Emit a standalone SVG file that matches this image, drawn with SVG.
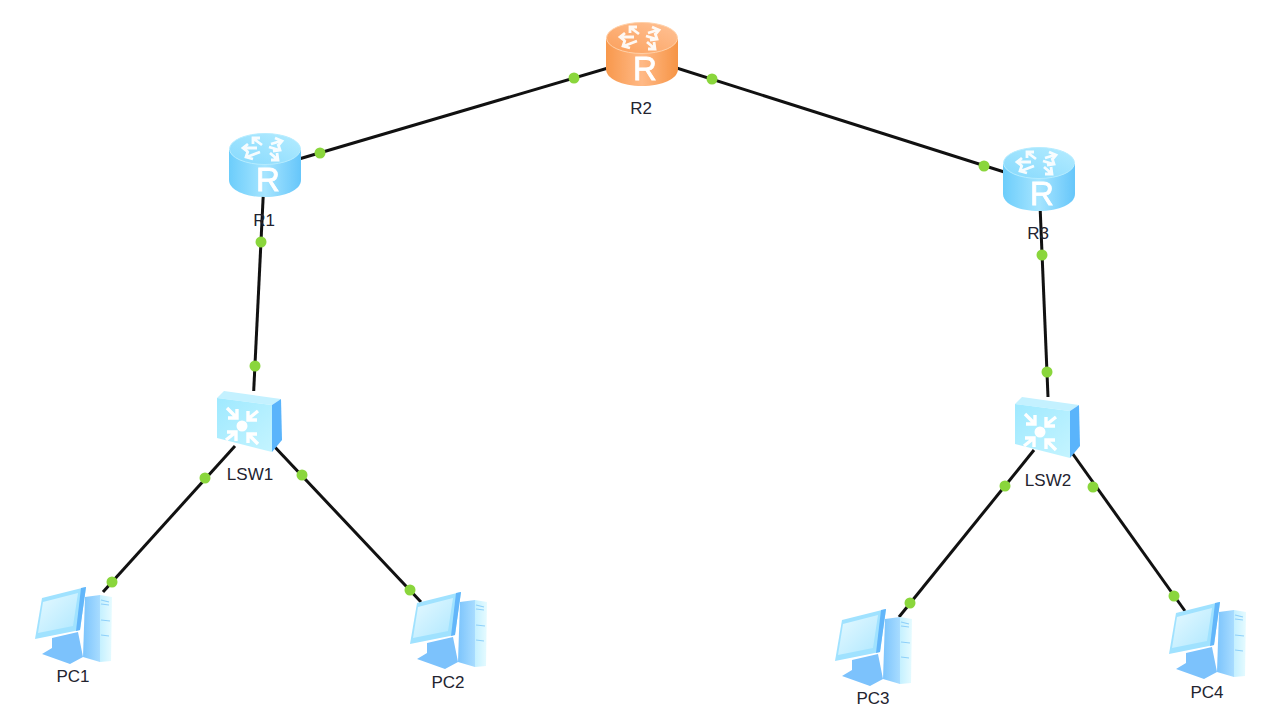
<svg xmlns="http://www.w3.org/2000/svg" width="1279" height="720" viewBox="0 0 1279 720">
<style>
text.l{font-family:"Liberation Sans",Arial,sans-serif;font-size:17px;fill:#23232f;text-anchor:middle}
.link{stroke:#111;stroke-width:3;fill:none}
.dot{fill:#8ad63c}
.blue{--side:url(#sideB);--top:url(#topB);--rim:#b6ecff}
.orange{--side:url(#sideO);--top:url(#topO);--rim:#ffd0a8}
.rside{fill:var(--side)}
.rtop{fill:var(--top);stroke:var(--rim);stroke-width:1}
.wa{fill:none;stroke:#fff;stroke-width:2.8;opacity:.92}
.rl{font-family:"Liberation Sans",Arial,sans-serif;font-size:33px;fill:#fff;stroke:#fff;stroke-width:.8;text-anchor:middle}
.icon{filter:url(#soft)}
</style>
<defs>
<filter id="soft" x="-5%" y="-5%" width="110%" height="110%"><feGaussianBlur stdDeviation="0.45"/></filter>
<linearGradient id="sideB" x1="0" x2="1" y1="0" y2="0"><stop offset="0" stop-color="#6ccdfb"/><stop offset=".5" stop-color="#a6e5ff"/><stop offset="1" stop-color="#66c6fa"/></linearGradient>
<linearGradient id="topB" x1="0" x2="1" y1="1" y2="0"><stop offset="0" stop-color="#86d9fd"/><stop offset="1" stop-color="#b4ecff"/></linearGradient>
<linearGradient id="sideO" x1="0" x2="1" y1="0" y2="0"><stop offset="0" stop-color="#f8984c"/><stop offset=".5" stop-color="#ffb986"/><stop offset="1" stop-color="#f69445"/></linearGradient>
<linearGradient id="topO" x1="0" x2="1" y1="1" y2="0"><stop offset="0" stop-color="#fb9f5a"/><stop offset="1" stop-color="#ffc296"/></linearGradient>
<linearGradient id="swFront" x1="0" x2="1" y1="0" y2="1"><stop offset="0" stop-color="#9fe9ff"/><stop offset="1" stop-color="#c4f4ff"/></linearGradient>
<linearGradient id="pcScreen" x1="0" x2="1" y1="0" y2="1"><stop offset="0" stop-color="#e6f9ff"/><stop offset="1" stop-color="#b0e8ff"/></linearGradient>
<linearGradient id="pcTower" x1="0" x2="1" y1="0" y2="0"><stop offset="0" stop-color="#c4f0ff"/><stop offset="1" stop-color="#e6fbff"/></linearGradient>
<linearGradient id="pcSide" x1="0" x2="1" y1="0" y2="0"><stop offset="0" stop-color="#7cc4fc"/><stop offset="1" stop-color="#a8dcff"/></linearGradient>
<g id="router">
<path class="rside" d="M0 17V47C0 57 16 64 36 64S72 57 72 47V17Z"/>
<ellipse class="rtop" cx="36" cy="16" rx="35.500" ry="15.500"/>
<g class="wa">
<path d="M33 12 25 6M24 11 24 5H31"/>
<path d="M28 15 15 15M19 11 14 15 19 19"/>
<path d="M42 11 52 8M46 5 53 8 49 13"/>
<path d="M40 14 50 17M44 18 51 17 49 11" />
<path d="M31 19 18 24M19 18 17 24 24 26"/>
<path d="M41 20 48 26M48 20 49 27 42 27"/>
</g>
<text class="rl" x="39" y="58">R</text>
</g>
<g id="switch">
<path d="M1 8 8 1 65 9 56 15Z" fill="#c4f1ff"/>
<path d="M56 15 65 9 66 50 56 62Z" fill="#5ab4fb"/>
<path d="M1 8 56 15V62L1 48Z" fill="url(#swFront)"/>
<circle cx="26" cy="36" r="5.500" fill="#fff"/>
<g fill="none" stroke="#fff" stroke-width="3.400">
<path d="M11 18 21 28M21 19V28H12"/>
<path d="M42 21 32 29M32 21V30H41"/>
<path d="M10 50 20 42M11 42H20V51"/>
<path d="M42 54 32 44M32 53V44H41"/>
</g>
</g>
<g id="pc">
<path d="M18 50 44 44 49 69 36 76 8 66 18 60Z" fill="#7cc2fc"/>
<path d="M51 9 66 7V74L49 69Z" fill="url(#pcSide)"/>
<path d="M66 7 78 9 77 73 66 74Z" fill="url(#pcTower)"/>
<path d="M67 12 75 14M67 16 75 17M67 32 76 33M67 47 75 48" stroke="#8ed0fa" stroke-width="1.200" fill="none"/>
<path d="M8 10 52 -1 46 42 1 51Z" fill="#a0e2ff"/>
<path d="M47 0 52 -1 46 42 42 43Z" fill="#62b6fa"/>
<path d="M9 14 44 5 39 38 4 45Z" fill="url(#pcScreen)"/>
</g>
</defs>
<g id="connectors">
<line class="link" x1="642" y1="58" x2="265" y2="169"/>
<line class="link" x1="642" y1="57" x2="1039" y2="183"/>
<line class="link" x1="263.500" y1="190" x2="253.700" y2="391"/>
<line class="link" x1="1040" y1="205" x2="1048" y2="397"/>
<line class="link" x1="235" y1="446" x2="103" y2="592"/>
<line class="link" x1="272" y1="444" x2="421" y2="602"/>
<line class="link" x1="1034" y1="450" x2="899" y2="617"/>
<line class="link" x1="1070" y1="450" x2="1185" y2="611"/>
<g>
<circle class="dot" cx="574" cy="78" r="5.500"/><circle class="dot" cx="320" cy="153" r="5.500"/>
<circle class="dot" cx="712" cy="79" r="5.500"/><circle class="dot" cx="984" cy="166" r="5.500"/>
<circle class="dot" cx="261" cy="242" r="5.500"/><circle class="dot" cx="255" cy="366" r="5.500"/>
<circle class="dot" cx="1042" cy="255" r="5.500"/><circle class="dot" cx="1047" cy="372" r="5.500"/>
<circle class="dot" cx="205" cy="478" r="5.500"/><circle class="dot" cx="112" cy="582" r="5.500"/>
<circle class="dot" cx="302" cy="475" r="5.500"/><circle class="dot" cx="410" cy="590" r="5.500"/>
<circle class="dot" cx="1005" cy="486" r="5.500"/><circle class="dot" cx="910" cy="603" r="5.500"/>
<circle class="dot" cx="1093" cy="487" r="5.500"/><circle class="dot" cx="1174" cy="596" r="5.500"/>
</g>
</g>
<g id="R2"><use href="#router" class="orange icon" x="606" y="22"/><text class="l" x="641" y="114">R2</text></g>
<g id="R1"><use href="#router" class="blue icon" x="229" y="133"/><text class="l" x="264" y="226">R1</text></g>
<g id="R3"><use href="#router" class="blue icon" x="1003" y="147"/><text class="l" x="1038" y="239">R3</text></g>
<g id="LSW1"><use href="#switch" class="icon" x="216" y="390"/><text class="l" x="250" y="480">LSW1</text></g>
<g id="LSW2"><use href="#switch" class="icon" x="1014" y="396"/><text class="l" x="1048" y="486">LSW2</text></g>
<g id="PC1"><use href="#pc" class="icon" x="34" y="588"/><text class="l" x="73" y="682">PC1</text></g>
<g id="PC2"><use href="#pc" class="icon" x="409" y="593"/><text class="l" x="448" y="688">PC2</text></g>
<g id="PC3"><use href="#pc" class="icon" x="834" y="610"/><text class="l" x="873" y="704">PC3</text></g>
<g id="PC4"><use href="#pc" class="icon" x="1168" y="603"/><text class="l" x="1207" y="698">PC4</text></g>
</svg>
